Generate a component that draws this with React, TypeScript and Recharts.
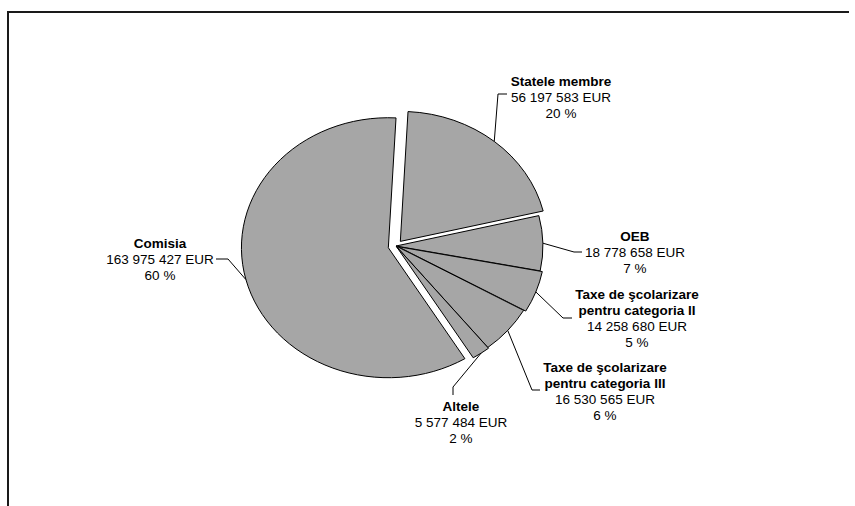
import React from 'react';
import { PieChart, Pie } from 'recharts';

const categories = [
  'Statele membre',
  'OEB',
  'Taxe de şcolarizare\npentru categoria II',
  'Taxe de şcolarizare\npentru categoria III',
  'Altele',
  'Comisia',
];
const amounts = [56197583, 18778658, 14258680, 16530565, 5577484, 163975427];

const data = categories.map((name, i) => ({ name, value: amounts[i] }));

// layout only: how far each slice is pulled out, and where its label sits
const explode: Record<string, number> = {
  'Statele membre': 6,
  OEB: 0,
  'Taxe de şcolarizare\npentru categoria II': 2,
  'Taxe de şcolarizare\npentru categoria III': 0,
  Altele: 1,
  Comisia: 7,
};

const labelPos: Record<string, { x: number; y: number; leader: [number, number][] }> = {
  'Statele membre': { x: 561, y: 81, leader: [[498, 94], [507, 94]] },
  OEB: { x: 635, y: 236, leader: [[574, 252], [582, 252]] },
  'Taxe de şcolarizare\npentru categoria II': { x: 637, y: 294, leader: [[563, 318], [572, 318]] },
  'Taxe de şcolarizare\npentru categoria III': { x: 605, y: 367, leader: [[532, 390], [540, 390]] },
  Altele: { x: 461, y: 406, leader: [[453, 387], [453, 395]] },
  Comisia: { x: 160, y: 243, leader: [[228, 259], [216, 259]] },
};

const RX = 1.13; // pie is drawn as an ellipse, wider than tall
const RAD = Math.PI / 180;
const FONT = 'Liberation Sans, Arial, sans-serif';

const fmt = (v: number) => v.toString().replace(/\B(?=(\d{3})+(?!\d))/g, ' ');

const offsetFor = (name: string, mid: number) => {
  const d = explode[name] ?? 0;
  return { dx: d * Math.cos(mid * RAD) * RX, dy: -d * Math.sin(mid * RAD) };
};

const SliceShape = (props: any) => {
  const { cx, cy, outerRadius, startAngle, endAngle, fill, stroke } = props;
  const name = props.name ?? props.payload?.name;
  const mid = (startAngle + endAngle) / 2;
  const { dx, dy } = offsetFor(name, mid);
  const vx = cx + dx;
  const vy = cy + dy;
  const rx = outerRadius * RX;
  const ry = outerRadius;
  const p = (a: number) => [vx + rx * Math.cos(a * RAD), vy - ry * Math.sin(a * RAD)];
  const [x1, y1] = p(startAngle);
  const [x2, y2] = p(endAngle);
  const large = Math.abs(startAngle - endAngle) > 180 ? 1 : 0;
  const sweep = startAngle > endAngle ? 1 : 0;
  const d = `M${vx},${vy} L${x1},${y1} A${rx},${ry} 0 ${large} ${sweep} ${x2},${y2} Z`;
  return <path d={d} fill={fill} stroke={stroke} strokeWidth={1} strokeLinejoin="round" />;
};

const renderLabel = (props: any) => {
  const { cx, cy, midAngle, outerRadius, percent, value } = props;
  const name = props.name ?? props.payload?.name;
  const pos = labelPos[name];
  if (!pos) return null;
  const { dx, dy } = offsetFor(name, midAngle);
  const sx = cx + dx + outerRadius * RX * Math.cos(midAngle * RAD);
  const sy = cy + dy - outerRadius * Math.sin(midAngle * RAD);
  const pts = [[sx, sy], ...pos.leader].map((q) => q.join(',')).join(' ');
  const nameLines = String(name).split('\n');
  const lines = [
    ...nameLines.map((t) => ({ t, bold: true })),
    { t: `${fmt(value)} EUR`, bold: false },
    { t: `${Math.round(percent * 100)} %`, bold: false },
  ];
  return (
    <g>
      <polyline points={pts} fill="none" stroke="#000" strokeWidth={1} />
      {lines.map((l, i) => (
        <text
          key={i}
          x={pos.x}
          y={pos.y + i * 16}
          textAnchor="middle"
          dominantBaseline="central"
          fontFamily={FONT}
          fontSize={13.5}
          fontWeight={l.bold ? 'bold' : 'normal'}
          fill="#000"
        >
          {l.t}
        </text>
      ))}
    </g>
  );
};

export default function App() {
  return (
    <div style={{ position: 'absolute', left: 0, top: 0, width: 855, height: 506, background: '#fff' }}>
      <div
        style={{
          position: 'absolute',
          left: 7,
          top: 11,
          width: 840,
          height: 493,
          borderTop: '2px solid #1a1a1a',
          borderLeft: '2px solid #1a1a1a',
        }}
      />
      <PieChart width={855} height={506} margin={{ top: 0, right: 0, bottom: 0, left: 0 }} style={{ position: 'absolute', left: 0, top: 0 }}>
        <Pie
          data={data}
          dataKey="value"
          nameKey="name"
          cx={396}
          cy={246}
          outerRadius={130}
          startAngle={87}
          endAngle={-273}
          fill="#a6a6a6"
          stroke="#000"
          shape={SliceShape}
          label={renderLabel}
          labelLine={false}
          isAnimationActive={false}
        />
      </PieChart>
    </div>
  );
}
